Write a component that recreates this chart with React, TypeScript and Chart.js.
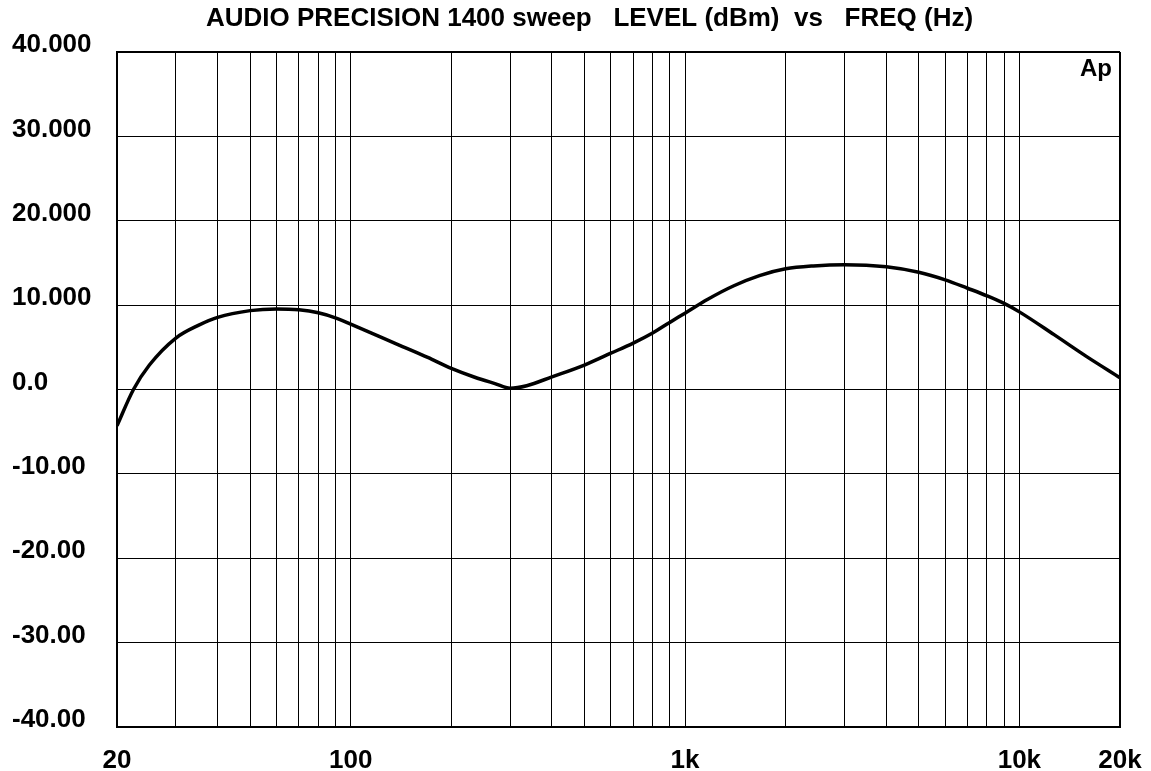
import { useEffect, useRef } from 'react';
import { Chart, registerables } from 'chart.js';

Chart.register(...registerables);

// ---- data ----
const FREQ_HZ = [
  20, 22.4, 25, 30, 35, 40, 50, 60, 70, 80, 90, 100, 139, 170, 200, 235, 270, 300, 336, 400, 500,
  600, 700, 800, 900, 1000, 1170, 1400, 1670, 2000, 2420, 3000, 4000, 5000, 6000, 7000, 8000, 9000,
  10000, 12700, 15900, 20000,
];
const LEVEL_DBM = [
  -4.3, 0, 2.9, 6.1, 7.6, 8.55, 9.35, 9.55, 9.45, 9.1, 8.5, 7.75, 5.3, 3.8, 2.5, 1.45, 0.7, 0.15,
  0.45, 1.5, 2.9, 4.3, 5.5, 6.7, 7.95, 9.05, 10.7, 12.3, 13.5, 14.3, 14.65, 14.8, 14.55, 13.9, 13.0,
  12.0, 11.1, 10.2, 9.2, 6.5, 3.9, 1.4,
];

const X_GRID_HZ = [
  20, 30, 40, 50, 60, 70, 80, 90, 100, 200, 300, 400, 500, 600, 700, 800, 900, 1000, 2000, 3000,
  4000, 5000, 6000, 7000, 8000, 9000, 10000, 20000,
];
const X_LABEL_VALUES = [20, 100, 1000, 10000, 20000];
const X_LABEL_TEXTS = ['20', '100', '1k', '10k', '20k'];

const Y_TICK_VALUES = [40, 30, 20, 10, 0, -10, -20, -30, -40];
const Y_TICK_LABELS = ['40.000', '30.000', '20.000', '10.000', '0.0', '-10.00', '-20.00', '-30.00', '-40.00'];

const TITLE = 'AUDIO PRECISION 1400 sweep   LEVEL (dBm)  vs   FREQ (Hz)';
const CORNER_MARK = 'Ap';

const FONT_FAMILY = '"Liberation Sans", Arial, Helvetica, sans-serif';

const textPlugin = {
  id: 'apText',
  afterDraw(chart: any) {
    const { ctx, chartArea } = chart;
    ctx.save();
    ctx.fillStyle = '#000';
    ctx.textBaseline = 'alphabetic';
    ctx.font = `bold 26px ${FONT_FAMILY}`;
    ctx.textAlign = 'center';
    ctx.fillText(TITLE, 589.5, 26);
    ctx.font = `bold 24px ${FONT_FAMILY}`;
    ctx.textAlign = 'right';
    ctx.fillText(CORNER_MARK, chartArea.right - 8, chartArea.top + 24);
    ctx.restore();
  },
};

export default function App() {
  const canvasRef = useRef<HTMLCanvasElement | null>(null);

  useEffect(() => {
    if (!canvasRef.current) return;
    const points = FREQ_HZ.map((f, i) => ({ x: f, y: LEVEL_DBM[i] }));
    const chart = new Chart(canvasRef.current, {
      type: 'line',
      data: {
        datasets: [
          {
            data: points,
            borderColor: '#000',
            borderWidth: 3.5,
            pointRadius: 0,
            cubicInterpolationMode: 'monotone',
            fill: false,
          },
        ],
      },
      plugins: [textPlugin],
      options: {
        animation: false,
        responsive: false,
        maintainAspectRatio: false,
        layout: { padding: { left: 12, right: 31, top: 52, bottom: 0 } },
        plugins: {
          legend: { display: false },
          title: { display: false },
          tooltip: { enabled: false },
        },
        scales: {
          x: {
            type: 'logarithmic',
            min: 20,
            max: 20000,
            afterBuildTicks: (scale: any) => {
              scale.ticks = X_GRID_HZ.map((v) => ({ value: v }));
            },
            afterFit: (scale: any) => {
              scale.height = 44;
              scale.paddingLeft = 0;
              scale.paddingRight = 0;
            },
            grid: {
              color: '#000',
              lineWidth: (c: any) => (c.tick && c.tick.value === 20000 ? 2 : 1),
              drawTicks: false,
            },
            border: { color: '#000', width: 2 },
            ticks: {
              autoSkip: false,
              maxRotation: 0,
              minRotation: 0,
              padding: 18,
              color: '#000',
              font: { family: FONT_FAMILY, size: 26, weight: 'bold' },
              callback: (v: any) => {
                const i = X_LABEL_VALUES.indexOf(Number(v));
                return i >= 0 ? X_LABEL_TEXTS[i] : '';
              },
            },
          },
          y: {
            type: 'linear',
            min: -40,
            max: 40,
            afterBuildTicks: (scale: any) => {
              scale.ticks = Y_TICK_VALUES.map((v) => ({ value: v }));
            },
            afterFit: (scale: any) => {
              scale.width = 105;
            },
            grid: {
              color: '#000',
              lineWidth: (c: any) => (c.tick && c.tick.value === 40 ? 2 : 1),
              drawTicks: false,
            },
            border: { color: '#000', width: 2 },
            ticks: {
              crossAlign: 'far',
              labelOffset: -7,
              color: '#000',
              font: { family: FONT_FAMILY, size: 26, weight: 'bold' },
              callback: (v: any) => {
                const i = Y_TICK_VALUES.indexOf(Number(v));
                return i >= 0 ? Y_TICK_LABELS[i] : '';
              },
            },
          },
        },
      } as any,
    });
    return () => chart.destroy();
  }, []);

  return (
    <div style={{ position: 'absolute', left: 0, top: 0, width: 1151, height: 771, background: '#fff' }}>
      <canvas ref={canvasRef} width={1151} height={771} style={{ display: 'block' }} />
    </div>
  );
}
